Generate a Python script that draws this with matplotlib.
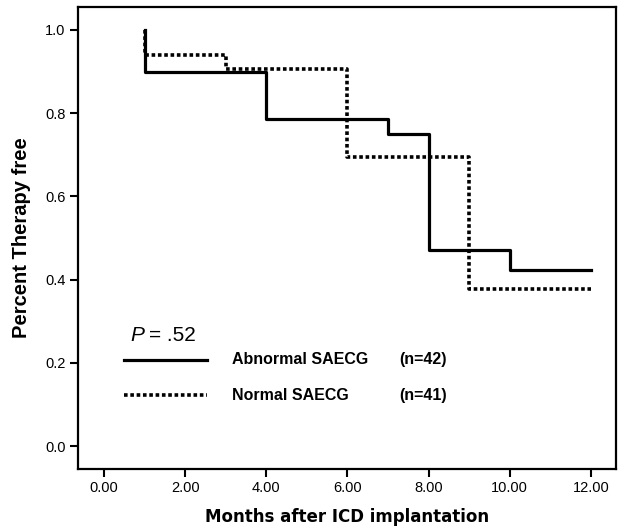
import matplotlib
matplotlib.use("Agg")
import matplotlib.pyplot as plt

plt.rcParams['font.family'] = ['Liberation Sans', 'DejaVu Sans']

# Kaplan-Meier steps
abn_months = [1, 1, 4, 7, 8, 10, 12]
abn_free = [1.0, 0.90, 0.787, 0.75, 0.47, 0.422, 0.422]
norm_months = [1, 1, 3, 6, 9, 12]
norm_free = [1.0, 0.94, 0.906, 0.695, 0.378, 0.378]

x_ticks = [0, 2, 4, 6, 8, 10, 12]
y_ticks = [0.0, 0.2, 0.4, 0.6, 0.8, 1.0]

fig = plt.figure(figsize=(6.21, 5.31), dpi=100)
ax = fig.add_axes([0.1256, 0.1168, 0.8664, 0.87])

ax.step(abn_months, abn_free, where='post', color='black', lw=2.3)
ax.step(norm_months, norm_free, where='post', color='black', lw=2.6,
        linestyle=(0, (1.0, 0.75)))

ax.set_xlim(-0.64, 12.62)
ax.set_ylim(-0.055, 1.055)
ax.set_xticks(x_ticks)
ax.set_xticklabels(['%.2f' % v for v in x_ticks])
ax.set_yticks(y_ticks)
ax.set_yticklabels(['%.1f' % v for v in y_ticks])
ax.tick_params(direction='out', length=6, width=1.5, labelsize=10.5, pad=3)
for s in ax.spines.values():
    s.set_linewidth(1.6)

ax.set_xlabel('Months after ICD implantation', fontsize=12, fontweight='bold',
              family='DejaVu Sans', labelpad=9)
ax.set_ylabel('Percent Therapy free', fontsize=14.5, fontweight='bold', labelpad=10)

# legend block drawn by hand, like the original
tr = ax.transAxes
ax.text(0.097, 0.29, 'P', style='italic', fontsize=15, transform=tr, va='center')
ax.text(0.132, 0.29, '= .52', fontsize=15, transform=tr, va='center')
ax.plot([0.0855, 0.24], [0.236, 0.236], color='black', lw=2.3, transform=tr)
ax.plot([0.0855, 0.24], [0.160, 0.160], color='black', lw=2.6,
        linestyle=(0, (1.0, 0.75)), transform=tr)
ax.text(0.286, 0.236, 'Abnormal SAECG', fontsize=11.5, fontweight='bold', transform=tr, va='center')
ax.text(0.598, 0.236, '(n=42)', fontsize=11.5, fontweight='bold', transform=tr, va='center')
ax.text(0.286, 0.160, 'Normal SAECG', fontsize=11.5, fontweight='bold', transform=tr, va='center')
ax.text(0.598, 0.160, '(n=41)', fontsize=11.5, fontweight='bold', transform=tr, va='center')

fig.savefig('out.png', dpi=100)
